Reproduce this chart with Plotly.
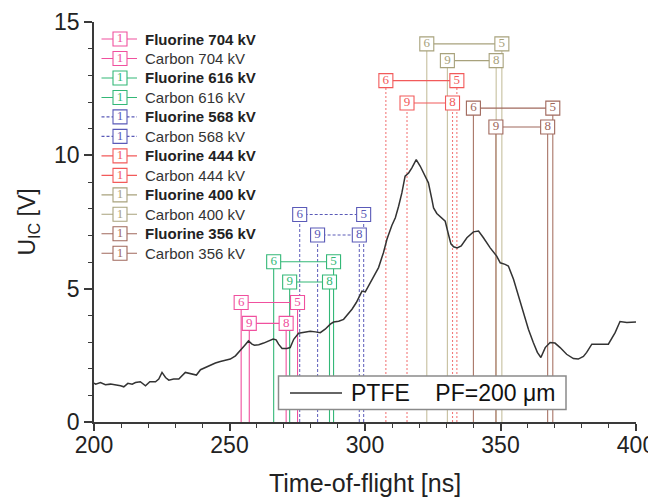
import plotly.graph_objects as go

# ---------------- data ----------------
TOF_NS = [200.0, 200.6, 202.4, 204.2, 206.1, 208.0, 209.8, 211.0, 212.5, 214.1, 215.3, 217.1,
          219.0, 220.6, 222.7, 223.9, 225.1, 226.4, 227.6, 229.4, 231.3, 233.7, 235.6, 237.8,
          239.3, 241.1, 242.9, 244.8, 246.6, 248.5, 250.3, 252.2, 254.0, 255.5, 257.0, 258.3,
          259.2, 260.8, 262.6, 264.5, 266.1, 267.2, 268.1, 269.4, 271.2, 272.4, 273.7, 275.5,
          278.0, 279.8, 281.7, 283.5, 285.3, 287.2, 288.4, 290.3, 292.1, 293.3, 295.2, 296.8,
          298.2, 298.9, 300.1, 301.3, 303.2, 305.0, 306.8, 308.1, 309.9, 311.2, 312.4, 313.6,
          314.8, 316.1, 317.3, 318.9, 320.4, 321.6, 323.4, 324.7, 325.3, 326.5, 328.4, 329.6,
          330.8, 331.7, 332.7, 334.0, 335.5, 337.6, 340.0, 341.9, 343.7, 346.2, 348.6, 349.9,
          351.7, 352.9, 354.8, 356.6, 358.5, 360.3, 362.1, 363.6, 364.9, 366.5, 368.3, 370.1,
          372.0, 374.4, 376.9, 378.7, 380.6, 381.8, 383.7, 386.1, 389.8, 392.3, 394.1, 396.6,
          400.0]
U_IC_V = [1.46, 1.42, 1.48, 1.40, 1.42, 1.40, 1.36, 1.32, 1.45, 1.42, 1.48, 1.51,
          1.36, 1.51, 1.51, 1.61, 1.86, 1.67, 1.57, 1.61, 1.61, 1.86, 1.80, 1.76,
          1.96, 2.05, 2.13, 2.21, 2.27, 2.33, 2.36, 2.48, 2.67, 2.86, 3.04, 2.92,
          2.88, 2.90, 2.96, 3.04, 3.11, 3.08, 2.92, 2.76, 2.76, 2.79, 3.10, 3.33,
          3.38, 3.40, 3.38, 3.35, 3.48, 3.67, 3.75, 3.78, 3.85, 4.00, 4.23, 4.48,
          4.79, 4.91, 4.88, 5.10, 5.41, 5.79, 6.35, 6.85, 7.37, 7.66, 8.09, 8.59,
          9.22, 9.34, 9.53, 9.84, 9.59, 9.34, 8.97, 8.34, 8.03, 7.82, 7.66, 7.53,
          7.03, 6.68, 6.57, 6.53, 6.60, 6.91, 7.13, 7.16, 6.91, 6.53, 6.22, 5.97,
          5.91, 5.85, 5.35, 4.73, 4.10, 3.48, 2.98, 2.61, 2.42, 2.79, 2.98, 2.96,
          2.79, 2.54, 2.38, 2.36, 2.46, 2.61, 2.92, 2.92, 2.92, 3.35, 3.77, 3.73,
          3.75]

VOLTAGES_KV = [704, 616, 568, 444, 400, 356]
CARBON_Q6_TOF = [254.3, 266.3, 275.9, 307.7, 322.8, 340.0]
CARBON_Q5_TOF = [275.1, 288.4, 299.5, 333.9, 350.5, 369.3]
FLUORINE_Q9_TOF = [257.3, 272.2, 282.5, 315.5, 330.4, 348.3]
FLUORINE_Q8_TOF = [270.9, 286.9, 297.9, 332.3, 348.4, 367.4]
CARBON_LEVEL = [4.48, 6.01, 7.78, 12.80, 14.18, 11.77]
FLUORINE_LEVEL = [3.70, 5.25, 7.01, 11.96, 13.55, 11.06]
CARBON_CHARGES = ["6", "5"]
FLUORINE_CHARGES = ["9", "8"]
LEGEND_SYMBOL_TEXT = "1"

X_TICKS = [200, 250, 300, 350, 400]
Y_TICKS = [0, 5, 10, 15]

# ---------------- style ----------------
COLORS = ["#f0509e", "#33b877", "#5a5ab8", "#f25a5a", "#a8a27c", "#a0685c"]
DROP_COLORS = ["#f0509e", "#33b877", "#6a6ac0", "#f27a7a", "#c6bf9e", "#a87466"]
DROP_DASH = ["solid", "solid", "3px,2px", "2px,2px", "solid", "solid"]
CONN_DASH = ["solid", "solid", "3px,2px", "solid", "solid", "solid"]
SANS = "Arial, Liberation Sans, sans-serif"
SERIF = "Times New Roman, Liberation Serif, serif"
AXC = "#3a3a3a"

# the page body has an 8px margin; the figure is sized to fill the window
PAGE_OFF = 8
W, H = 656 - PAGE_OFF, 498 - PAGE_OFF
ML, MR, MT, MB = 86, 20, 14, 76

fig = go.Figure()

series = []
for i, v in enumerate(VOLTAGES_KV):
    series.append(dict(name=f"Fluorine {v} kV", bold=True, xs=[FLUORINE_Q9_TOF[i], FLUORINE_Q8_TOF[i]],
                       level=FLUORINE_LEVEL[i], labels=FLUORINE_CHARGES, ci=i))
    series.append(dict(name=f"Carbon {v} kV", bold=False, xs=[CARBON_Q6_TOF[i], CARBON_Q5_TOF[i]],
                       level=CARBON_LEVEL[i], labels=CARBON_CHARGES, ci=i))

# drop lines
for s in series:
    i = s["ci"]
    xs, yv = [], []
    for x in s["xs"]:
        xs += [x, x, None]
        yv += [0, s["level"], None]
    fig.add_trace(go.Scatter(x=xs, y=yv, mode="lines", showlegend=False, hoverinfo="skip",
                             line=dict(color=DROP_COLORS[i], width=1.1, dash=DROP_DASH[i])))

# measured curve
fig.add_trace(go.Scatter(x=TOF_NS, y=U_IC_V, mode="lines", showlegend=False,
                         line=dict(color="#333333", width=1.5)))

# connectors with labelled boxes
for s in series:
    i = s["ci"]
    fig.add_trace(go.Scatter(
        x=s["xs"], y=[s["level"]] * 2, mode="lines+markers+text", showlegend=False,
        text=s["labels"], textposition="middle center",
        textfont=dict(family=SERIF, size=13, color=COLORS[i]),
        line=dict(color=COLORS[i], width=1.1, dash=CONN_DASH[i]),
        marker=dict(symbol="square", size=14, color="white", line=dict(color=COLORS[i], width=1.1)),
    ))

# custom legend on an overlay axis mapped to window pixels
LEG_ROW0, LEG_STEP = 39.0, 19.48
LEG_L, LEG_BOX, LEG_R, LEG_TXT = 101.5, 120.0, 137.0, 143.0
annotations = []
for k, s in enumerate(series):
    i = s["ci"]
    row = LEG_ROW0 + LEG_STEP * k
    fig.add_trace(go.Scatter(
        x=[LEG_L, LEG_R], y=[row, row], xaxis="x3", yaxis="y3",
        mode="lines", showlegend=False, hoverinfo="skip",
        line=dict(color=COLORS[i], width=1.1, dash=CONN_DASH[i]),
    ))
    fig.add_trace(go.Scatter(
        x=[LEG_BOX], y=[row], xaxis="x3", yaxis="y3",
        mode="markers+text", showlegend=False, hoverinfo="skip",
        text=[LEGEND_SYMBOL_TEXT], textposition="middle center",
        textfont=dict(family=SERIF, size=13, color=COLORS[i]),
        marker=dict(symbol="square", size=14, color="white",
                    line=dict(color=COLORS[i], width=1.1)),
    ))
    label = f"<b>{s['name']}</b>" if s["bold"] else s["name"]
    annotations.append(dict(x=LEG_TXT, y=row, xref="x3", yref="y3", text=label, showarrow=False,
                            xanchor="left", yanchor="middle",
                            font=dict(family=SANS, size=15, color="#222222" if s["bold"] else "#333333")))

# PTFE legend box
annotations.append(dict(x=349, y=393, xref="x3", yref="y3", showarrow=False, xanchor="left",
                        yanchor="middle", text="PTFE\u00a0\u00a0\u00a0\u00a0PF=200 \u03bcm",
                        font=dict(family=SANS, size=23, color="#111111")))
shapes = [
    dict(type="rect", xref="x3", yref="y3", x0=278.5, x1=566, y0=376, y1=409.5,
         fillcolor="white", line=dict(color="#8a8a8a", width=1.5), layer="above"),
    dict(type="line", xref="x3", yref="y3", x0=290, x1=342, y0=393, y1=393,
         line=dict(color="#333333", width=1.5), layer="above"),
]

fig.update_layout(
    width=W, height=H, margin=dict(l=ML, r=MR, t=MT, b=MB, pad=0, autoexpand=False),
    paper_bgcolor="white", plot_bgcolor="white", showlegend=False,
    font=dict(family=SANS, size=23, color="#222222"),
    annotations=annotations, shapes=shapes,
    xaxis=dict(range=[200, 400], tickvals=X_TICKS, ticks="outside", ticklen=7, tickwidth=1.5,
               tickcolor=AXC, showline=True, linecolor=AXC, linewidth=1.8, showgrid=False,
               zeroline=False, tickfont=dict(size=23, color="#222222"), automargin=False,
               ticklabelstandoff=-6,
               minor=dict(dtick=10, ticks="outside", ticklen=4, tickwidth=1.2, tickcolor=AXC),
               title=dict(text="Time-of-flight [ns]", font=dict(size=25), standoff=18)),
    yaxis=dict(range=[0, 15], tickvals=Y_TICKS, ticks="outside", ticklen=8, tickwidth=1.5,
               tickcolor=AXC, showline=True, linecolor=AXC, linewidth=1.8, showgrid=False,
               zeroline=False, tickfont=dict(size=23, color="#222222"), automargin=False,
               minor=dict(dtick=1, ticks="outside", ticklen=4, tickwidth=1.2, tickcolor=AXC),
               title=dict(text="U<sub>IC</sub> [V]", font=dict(size=23), standoff=12)),
    xaxis2=dict(overlaying="x", anchor="y", side="top", range=[200, 400], tickvals=X_TICKS,
                ticks="inside", ticklen=8, tickwidth=1.5, tickcolor=AXC, showticklabels=False,
                showline=True, linecolor=AXC, linewidth=1.8, showgrid=False, zeroline=False,
                automargin=False),
    yaxis2=dict(overlaying="y", anchor="x", side="right", range=[0, 15], tick0=0, dtick=1.5,
                ticks="inside", ticklen=6, tickwidth=1.5, tickcolor=AXC, showticklabels=False,
                showline=True, linecolor=AXC, linewidth=1.8, showgrid=False, zeroline=False,
                automargin=False),
    xaxis3=dict(overlaying="x", anchor="y3", range=[ML + PAGE_OFF, W + PAGE_OFF - MR],
                visible=False, fixedrange=True),
    yaxis3=dict(overlaying="y", anchor="x3", range=[H + PAGE_OFF - MB, MT + PAGE_OFF],
                visible=False, fixedrange=True),
)

fig.write_html("out.html")
